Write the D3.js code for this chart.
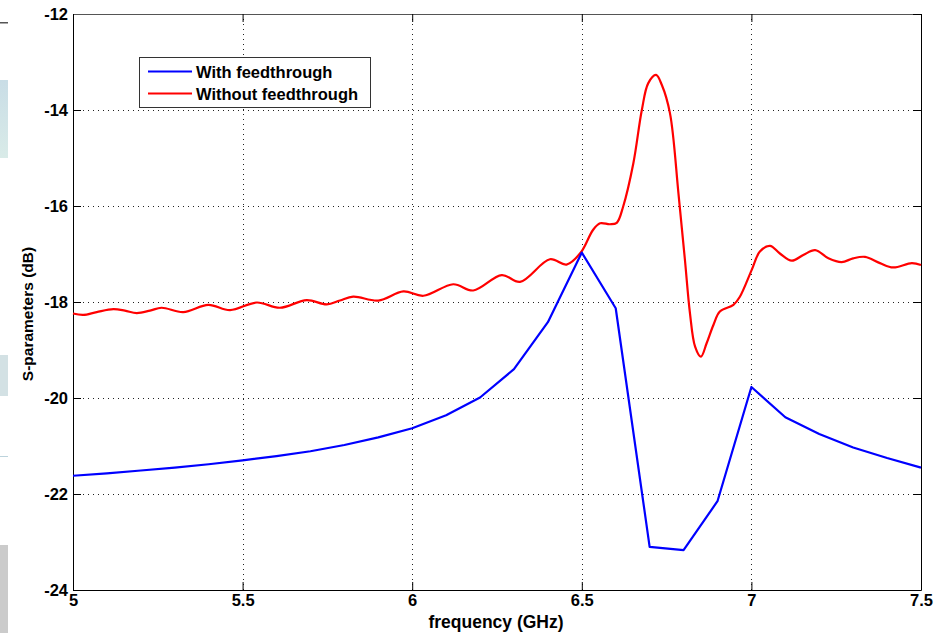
<!DOCTYPE html>
<html>
<head>
<meta charset="utf-8">
<script src="https://cdn.jsdelivr.net/npm/d3@7"></script>
<style>
  html, body { margin: 0; padding: 0; background: #fff; }
  svg { display: block; font-family: "Liberation Sans", Arial, sans-serif; }
</style>
</head>
<body>
<svg id="chart" width="942" height="633"></svg>
<script>
// Frequency sweep for the device with the feedthrough path (sampled every 0.1 GHz)
const freqWith = [5.0, 5.1, 5.2, 5.3, 5.4, 5.5, 5.6, 5.7, 5.8, 5.9, 6.0, 6.1, 6.2,
                  6.3, 6.4, 6.5, 6.6, 6.7, 6.8, 6.9, 7.0, 7.1, 7.2, 7.3, 7.4, 7.5];
const dbWith = [-21.62, -21.57, -21.51, -21.45, -21.38, -21.30, -21.21, -21.11, -20.98,
                -20.82, -20.63, -20.36, -19.99, -19.40, -18.42, -16.97, -18.13, -23.10,
                -23.17, -22.15, -19.77, -20.40, -20.75, -21.03, -21.25, -21.45];

// Finely sampled response without the feedthrough path
const freqWithout = [5.000, 5.030, 5.070, 5.119, 5.153, 5.188, 5.227, 5.261, 5.325, 5.399,
                     5.463, 5.542, 5.610, 5.689, 5.748, 5.787, 5.826, 5.900, 5.974, 6.033,
                     6.121, 6.180, 6.264, 6.318, 6.406, 6.455, 6.497, 6.533, 6.554, 6.583,
                     6.603, 6.622, 6.652, 6.677, 6.696, 6.719, 6.736, 6.760, 6.785, 6.804,
                     6.819, 6.834, 6.851, 6.868, 6.888, 6.907, 6.947, 6.966, 7.001, 7.025,
                     7.055, 7.084, 7.119, 7.153, 7.188, 7.227, 7.266, 7.300, 7.335, 7.379,
                     7.418, 7.473, 7.500];
const dbWithout = [-18.24, -18.27, -18.21, -18.15, -18.18, -18.23, -18.18, -18.12, -18.21, -18.06,
                   -18.17, -18.01, -18.12, -17.96, -18.05, -17.97, -17.89, -17.97, -17.78, -17.87,
                   -17.63, -17.76, -17.44, -17.58, -17.11, -17.22, -16.97, -16.50, -16.36, -16.38,
                   -16.35, -16.01, -15.11, -14.00, -13.44, -13.27, -13.48, -14.07, -15.74, -17.12,
                   -18.24, -18.93, -19.14, -18.86, -18.48, -18.20, -18.06, -17.89, -17.33, -16.95,
                   -16.83, -16.99, -17.14, -17.02, -16.92, -17.09, -17.17, -17.09, -17.06, -17.19,
                   -17.28, -17.19, -17.23];

const xTicks = [5, 5.5, 6, 6.5, 7, 7.5];
const yTicks = [-24, -22, -20, -18, -16, -14, -12];
const seriesNames = ["With feedthrough", "Without feedthrough"];
const seriesColors = ["#0000ff", "#ff0000"];

const svg = d3.select("#chart");
const plot = { left: 73, right: 921, top: 14, bottom: 590 };

// Strip of the neighbouring window visible at the left edge
const strip = svg.append("g");
strip.append("rect").attr("x", 0).attr("y", 22).attr("width", 8).attr("height", 1.5).attr("fill", "#555");
const gBlue = svg.append("defs").append("linearGradient").attr("id", "stripBlue")
  .attr("x1", 0).attr("y1", 0).attr("x2", 0).attr("y2", 1);
gBlue.append("stop").attr("offset", 0).attr("stop-color", "#c9dde6");
gBlue.append("stop").attr("offset", 1).attr("stop-color", "#d9ebe8");
strip.append("rect").attr("x", 0).attr("y", 80).attr("width", 8).attr("height", 78).attr("fill", "url(#stripBlue)");
strip.append("rect").attr("x", 0).attr("y", 355).attr("width", 8).attr("height", 41).attr("fill", "#d3e1e4");
strip.append("rect").attr("x", 0).attr("y", 456).attr("width", 8).attr("height", 1).attr("fill", "#bcd3dc");
strip.append("rect").attr("x", 0).attr("y", 545).attr("width", 8).attr("height", 88).attr("fill", "#cbcbcb");

const x = d3.scaleLinear().domain([5, 7.5]).range([plot.left, plot.right]);
const y = d3.scaleLinear().domain([-24, -12]).range([plot.bottom, plot.top]);

// Dotted grid
const grid = svg.append("g").attr("stroke", "#222").attr("stroke-width", 1)
  .attr("stroke-dasharray", "1,4");
grid.selectAll("line.gx").data(xTicks.filter(d => d > 5 && d < 7.5)).join("line")
  .attr("x1", d => Math.round(x(d)) + 0.5).attr("x2", d => Math.round(x(d)) + 0.5)
  .attr("y1", plot.top).attr("y2", plot.bottom);
grid.selectAll("line.gy").data(yTicks.filter(d => d > -24 && d < -12)).join("line")
  .attr("y1", d => Math.round(y(d)) + 0.5).attr("y2", d => Math.round(y(d)) + 0.5)
  .attr("x1", plot.left).attr("x2", plot.right);

// Axes with inward ticks on all four sides
const plainNumber = d => String(d);
function styleAxis(g) {
  g.selectAll("path").attr("stroke", "#000");
  g.selectAll("line").attr("stroke", "#000");
  g.selectAll("text").attr("fill", "#000").attr("font-size", 16.5).attr("font-weight", "bold");
}
svg.append("g").attr("transform", `translate(0,${plot.bottom})`)
  .call(d3.axisBottom(x).tickValues(xTicks).tickSize(-8).tickSizeOuter(0).tickPadding(4)
        .tickFormat(plainNumber))
  .call(styleAxis);
svg.append("g").attr("transform", `translate(${plot.left},0)`)
  .call(d3.axisLeft(y).tickValues(yTicks).tickSize(-8).tickSizeOuter(0).tickPadding(5)
        .tickFormat(plainNumber))
  .call(styleAxis);
svg.append("g").attr("transform", `translate(0,${plot.top})`)
  .call(d3.axisTop(x).tickValues(xTicks).tickSize(-8).tickSizeOuter(0).tickFormat(""))
  .call(styleAxis)
  .call(g => g.select("path").attr("stroke", "#555"));
svg.append("g").attr("transform", `translate(${plot.right},0)`)
  .call(d3.axisRight(y).tickValues(yTicks).tickSize(-8).tickSizeOuter(0).tickFormat(""))
  .call(styleAxis);

// Series lines
const lineWith = d3.line().x((d, i) => x(freqWith[i])).y(d => y(d));
const lineWithout = d3.line().x((d, i) => x(freqWithout[i])).y(d => y(d)).curve(d3.curveCatmullRom.alpha(0.5));

svg.append("path").datum(dbWithout).attr("d", lineWithout)
  .attr("fill", "none").attr("stroke", seriesColors[1]).attr("stroke-width", 2.2)
  .attr("stroke-linejoin", "round");
svg.append("path").datum(dbWith).attr("d", lineWith)
  .attr("fill", "none").attr("stroke", seriesColors[0]).attr("stroke-width", 2.2)
  .attr("stroke-linejoin", "round");

// Axis titles
svg.append("text").attr("x", 496).attr("y", 628)
  .attr("text-anchor", "middle").attr("font-size", 17.5).attr("font-weight", "bold")
  .text("frequency (GHz)");
svg.append("text").attr("transform", "translate(33,314) rotate(-90)")
  .attr("text-anchor", "middle").attr("font-size", 15.5).attr("font-weight", "bold")
  .text("S-parameters (dB)");

// Legend
const legend = svg.append("g");
legend.append("rect").attr("x", 139.5).attr("y", 57.5).attr("width", 231).attr("height", 50)
  .attr("fill", "#fff").attr("stroke", "#333").attr("stroke-width", 1);
seriesNames.forEach((name, i) => {
  const ly = 71.5 + i * 22;
  legend.append("line").attr("x1", 148).attr("x2", 192).attr("y1", ly).attr("y2", ly)
    .attr("stroke", seriesColors[i]).attr("stroke-width", 2);
  legend.append("text").attr("x", 196).attr("y", ly + 6).attr("font-size", 16.5)
    .attr("font-weight", "bold").attr("fill", "#000").text(name);
});
</script>
</body>
</html>
